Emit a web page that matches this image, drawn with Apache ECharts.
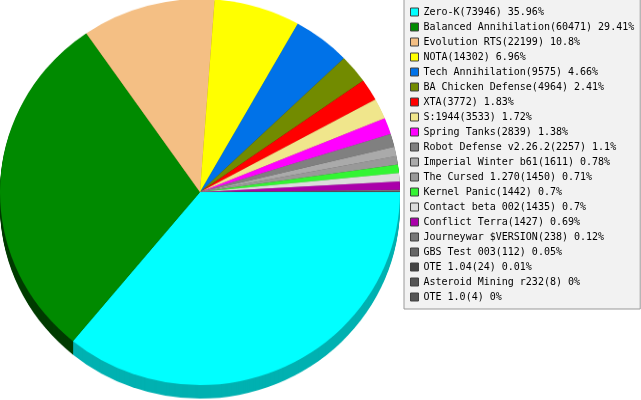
<!DOCTYPE html>
<html>
<head>
<meta charset="utf-8">
<script src="https://cdn.jsdelivr.net/npm/echarts@6/dist/echarts.min.js"></script>
<style>
html,body{margin:0;padding:0;background:#fff;}
#wrap{position:relative;width:641px;height:400px;overflow:hidden;}
#pie{position:absolute;left:0;top:0;width:641px;height:415px;transform:scaleY(0.965);transform-origin:0 0;}
#leg{position:absolute;left:0;top:0;width:641px;height:400px;}
</style>
</head>
<body>
<div id="wrap"><div id="pie"></div><div id="leg"></div></div>
<script>
const names = ["Zero-K","Balanced Annihilation","Evolution RTS","NOTA","Tech Annihilation","BA Chicken Defense","XTA","S:1944","Spring Tanks","Robot Defense v2.26.2","Imperial Winter b61","The Cursed 1.270","Kernel Panic","Contact beta 002","Conflict Terra","Journeywar $VERSION","GBS Test 003","OTE 1.04","Asteroid Mining r232","OTE 1.0"];
const values = [73946,60471,22199,14302,9575,4964,3772,3533,2839,2257,1611,1450,1442,1435,1427,238,112,24,8,4];
const colors = ["#00ffff","#008a00","#f4bf84","#ffff00","#0072e8","#728b00","#ff0000","#f0e68c","#ff00ff","#808080","#aaaaaa","#999999","#33f533","#dcdcdc","#aa00aa","#777777","#666666","#444444","#555555","#555555"];

const total = values.reduce((a,b)=>a+b,0);
const info = {};
names.forEach((n,i)=>{ info[n] = {v: values[i], p: Number((values[i]/total*100).toFixed(2))}; });

function darker(hex){
  const n = parseInt(hex.slice(1),16);
  const f = c => Math.max(0, c-78).toString(16).padStart(2,'0');
  return '#' + f((n>>16)&255) + f((n>>8)&255) + f(n&255);
}

const CX = 200, CY = 199, R = 200, DEPTH = 14;

function pieData(side){
  return names.map((n,i)=>({name:n, value:values[i], itemStyle:{color: side ? darker(colors[i]) : colors[i]}}));
}
const common = {type:'pie', radius:R, startAngle:0, clockwise:true,
  label:{show:false}, labelLine:{show:false}, emphasis:{disabled:true}, silent:true};

const series = [Object.assign({}, common, {name:'top', center:[CX,CY], z:3, itemStyle:{borderWidth:0}, data:pieData(false)})];
for(let d=DEPTH; d>=1; d--){
  series.push(Object.assign({}, common, {name:'side'+d, center:[CX,CY+d], z:2, itemStyle:{borderWidth:0}, data:pieData(true)}));
}

const pie = echarts.init(document.getElementById('pie'), null, {renderer:'canvas'});
pie.setOption({animation:false, backgroundColor:'#ffffff', series:series});

const leg = echarts.init(document.getElementById('leg'), null, {renderer:'canvas'});
leg.setOption({
  animation:false,
  legend:{
    orient:'vertical', left:404, top:-1,
    padding:[8,6,7,6],
    backgroundColor:'#f2f2f2', borderColor:'#999999', borderWidth:1,
    itemWidth:8, itemHeight:8, itemGap:5, icon:'rect',
    selectedMode:false,
    textStyle:{fontFamily:'DejaVu Sans Mono', fontSize:10, lineHeight:10, color:'#000'},
    data: names.map((n,i)=>({name:n, itemStyle:{color:colors[i], opacity:1, borderColor:'#404040', borderWidth:1}})),
    formatter: n => n + '(' + info[n].v + ') ' + info[n].p + '%'
  },
  series:[Object.assign({}, common, {name:'legendSource', center:[CX,CY], radius:0, itemStyle:{opacity:0}, data:pieData(false)})]
});
</script>
</body>
</html>
